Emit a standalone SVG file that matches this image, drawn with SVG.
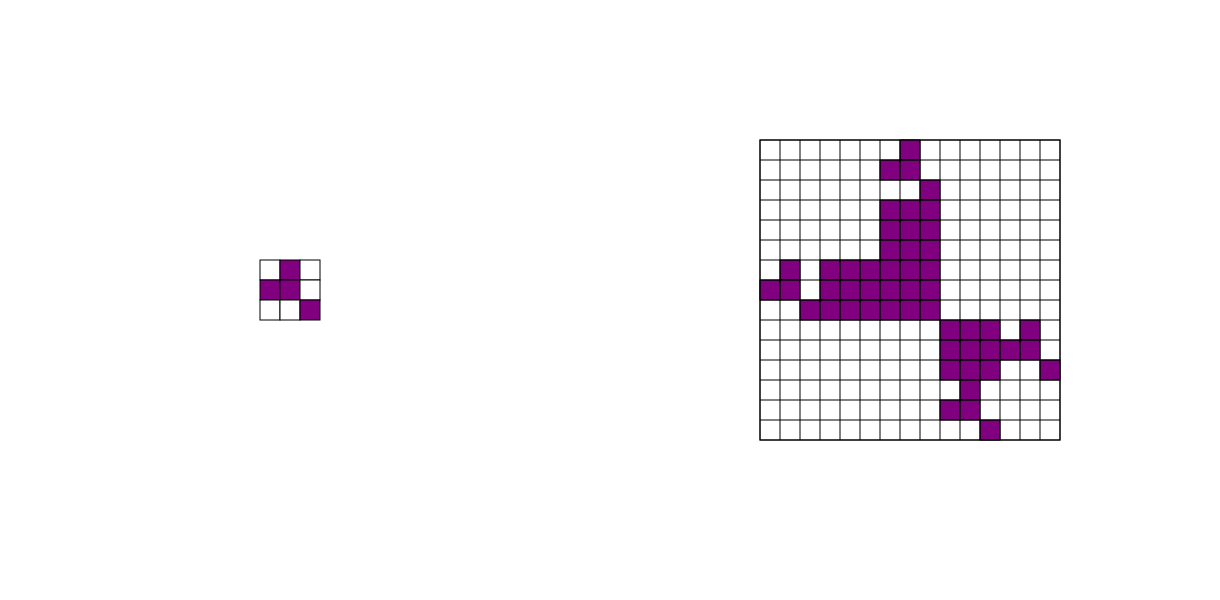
<svg xmlns="http://www.w3.org/2000/svg" width="1220" height="600" viewBox="0 0 1220 600">
<style>
.w{fill:#ffffff;stroke:#000000;stroke-width:1}
.p{fill:#800080;stroke:#000000;stroke-width:1}
</style>
<rect x="0" y="0" width="1220" height="600" fill="#ffffff"/>
<g id="small-grid">
<rect class="w" x="260" y="260" width="20" height="20"/><rect class="p" x="280" y="260" width="20" height="20"/><rect class="w" x="300" y="260" width="20" height="20"/>
<rect class="p" x="260" y="280" width="20" height="20"/><rect class="p" x="280" y="280" width="20" height="20"/><rect class="w" x="300" y="280" width="20" height="20"/>
<rect class="w" x="260" y="300" width="20" height="20"/><rect class="w" x="280" y="300" width="20" height="20"/><rect class="p" x="300" y="300" width="20" height="20"/>
</g>
<g id="large-grid">
<g id="bg">
<rect class="w" x="760" y="140" width="300" height="300"/>
</g>
<g id="purple">
<rect class="p" x="900" y="140" width="20" height="20"/>
<rect class="p" x="880" y="160" width="20" height="20"/><rect class="p" x="900" y="160" width="20" height="20"/>
<rect class="p" x="920" y="180" width="20" height="20"/>
<rect class="p" x="880" y="200" width="20" height="20"/><rect class="p" x="900" y="200" width="20" height="20"/><rect class="p" x="920" y="200" width="20" height="20"/>
<rect class="p" x="880" y="220" width="20" height="20"/><rect class="p" x="900" y="220" width="20" height="20"/><rect class="p" x="920" y="220" width="20" height="20"/>
<rect class="p" x="880" y="240" width="20" height="20"/><rect class="p" x="900" y="240" width="20" height="20"/><rect class="p" x="920" y="240" width="20" height="20"/>
<rect class="p" x="780" y="260" width="20" height="20"/><rect class="p" x="820" y="260" width="20" height="20"/><rect class="p" x="840" y="260" width="20" height="20"/><rect class="p" x="860" y="260" width="20" height="20"/><rect class="p" x="880" y="260" width="20" height="20"/><rect class="p" x="900" y="260" width="20" height="20"/><rect class="p" x="920" y="260" width="20" height="20"/>
<rect class="p" x="760" y="280" width="20" height="20"/><rect class="p" x="780" y="280" width="20" height="20"/><rect class="p" x="820" y="280" width="20" height="20"/><rect class="p" x="840" y="280" width="20" height="20"/><rect class="p" x="860" y="280" width="20" height="20"/><rect class="p" x="880" y="280" width="20" height="20"/><rect class="p" x="900" y="280" width="20" height="20"/><rect class="p" x="920" y="280" width="20" height="20"/>
<rect class="p" x="800" y="300" width="20" height="20"/><rect class="p" x="820" y="300" width="20" height="20"/><rect class="p" x="840" y="300" width="20" height="20"/><rect class="p" x="860" y="300" width="20" height="20"/><rect class="p" x="880" y="300" width="20" height="20"/><rect class="p" x="900" y="300" width="20" height="20"/><rect class="p" x="920" y="300" width="20" height="20"/>
<rect class="p" x="940" y="320" width="20" height="20"/><rect class="p" x="960" y="320" width="20" height="20"/><rect class="p" x="980" y="320" width="20" height="20"/><rect class="p" x="1020" y="320" width="20" height="20"/>
<rect class="p" x="940" y="340" width="20" height="20"/><rect class="p" x="960" y="340" width="20" height="20"/><rect class="p" x="980" y="340" width="20" height="20"/><rect class="p" x="1000" y="340" width="20" height="20"/><rect class="p" x="1020" y="340" width="20" height="20"/>
<rect class="p" x="940" y="360" width="20" height="20"/><rect class="p" x="960" y="360" width="20" height="20"/><rect class="p" x="980" y="360" width="20" height="20"/><rect class="p" x="1040" y="360" width="20" height="20"/>
<rect class="p" x="960" y="380" width="20" height="20"/>
<rect class="p" x="940" y="400" width="20" height="20"/><rect class="p" x="960" y="400" width="20" height="20"/>
<rect class="p" x="980" y="420" width="20" height="20"/>
</g>
<g id="gridlines" stroke="#000000" stroke-width="1">
<path d="M780 140V440M800 140V440M820 140V440M840 140V440M860 140V440M880 140V440M900 140V440M920 140V440M940 140V440M960 140V440M980 140V440M1000 140V440M1020 140V440M1040 140V440"/>
<path d="M760 160H1060M760 180H1060M760 200H1060M760 220H1060M760 240H1060M760 260H1060M760 280H1060M760 300H1060M760 320H1060M760 340H1060M760 360H1060M760 380H1060M760 400H1060M760 420H1060"/>
<rect x="760" y="140" width="300" height="300" fill="none"/>
</g>
</g>
</svg>
